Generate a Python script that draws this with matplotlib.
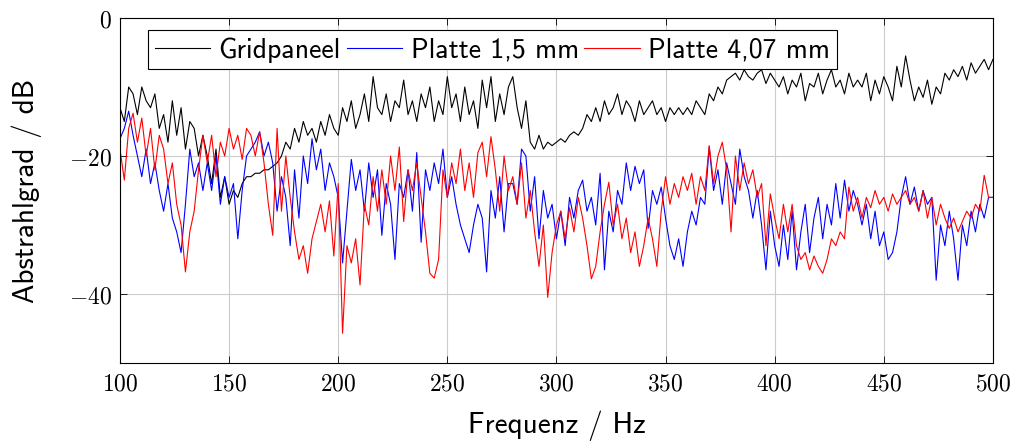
import numpy as np
import matplotlib
matplotlib.use("Agg")
import matplotlib.pyplot as plt

plt.rcParams['mathtext.fontset'] = 'cm'
plt.rcParams['axes.unicode_minus'] = False

# Frequenz 100..500 Hz in 2-Hz-Schritten
freq = np.arange(100, 501, 2)

gridpaneel = [
    -13, -15, -10, -11, -14, -10, -12, -13, -11, -16,
    -14, -18, -12, -17, -13, -19, -15, -16, -20, -17,
    -20, -24, -19, -26, -23, -27, -25, -26, -24, -23,
    -23, -22.5, -22.5, -22, -22, -21.5, -21, -20, -18, -19,
    -16, -18, -15, -17, -16, -18, -15, -17, -14, -16,
    -17, -13, -15, -12, -16, -14, -11, -15, -8.5, -13,
    -14, -11, -15, -12, -13, -9, -14, -12, -15, -11,
    -13, -10, -15, -12, -14, -8.5, -13, -11, -15, -10,
    -14, -12, -16, -9, -13, -8.5, -15, -11, -14, -10,
    -8.5, -13, -16, -12, -18, -19, -17, -19, -18, -18.5,
    -18, -17.5, -18, -17, -16.5, -17, -16, -14, -15, -13,
    -15, -12, -14, -13, -11, -14, -12, -13, -15, -12,
    -14, -13, -12, -14, -13, -15, -13, -14, -13, -14,
    -13, -14, -12, -13, -14, -11, -12, -10, -11, -9,
    -8.5, -8, -9, -7.5, -8.5, -9, -8, -7.5, -9.5, -8,
    -9, -10, -8.5, -11, -9, -10, -8, -12, -9.5, -10,
    -8, -11, -9, -7.5, -10, -9, -11, -8, -10, -9,
    -10, -8, -12, -9, -11, -8.5, -10, -12, -7, -10,
    -5.5, -9, -12, -10, -11.5, -9, -12.5, -10, -11, -8,
    -9, -7.5, -8.5, -7, -9, -6.5, -8, -7, -6, -7.5,
    -6,
]

platte_15 = [
    -17.5, -16, -13.5, -17, -20, -23, -19, -24, -21, -25,
    -28, -24, -29, -31, -34, -27, -19, -23, -21, -25,
    -21, -25, -20, -27, -23, -26, -24, -32, -25, -20,
    -19, -18, -16.5, -20, -18, -21, -28, -23, -26, -33,
    -22, -29, -20, -24, -17.5, -22, -19, -25, -21, -23,
    -26, -35.5, -28, -20.5, -25, -22, -28, -21, -26, -22,
    -31.5, -24, -27, -35, -24, -26, -22, -28, -19.5, -32.5,
    -22, -25, -21, -24, -19, -26, -23, -27, -30, -32,
    -34, -30, -27, -29, -36.8, -25, -29, -23, -31, -24,
    -24, -27, -19, -20, -28, -23, -32, -25, -29, -27,
    -32, -28, -33, -26, -29, -25, -23.5, -28, -26, -30,
    -22.5, -36.5, -28, -31, -25, -27, -21, -25, -21.5, -24,
    -22, -30.5, -25, -27, -24.5, -29, -33, -35, -32, -36,
    -31, -28, -30, -26, -27, -18.7, -25, -22, -27, -21,
    -24, -27, -19, -23, -25, -29, -25, -30, -36.5, -28,
    -33, -36, -30, -35, -28, -36.5, -31, -27, -34, -29,
    -26, -32, -27, -30, -24, -29, -23.5, -28, -25, -27,
    -30, -27, -32, -28, -33, -31, -35, -34, -31, -26,
    -23, -27, -24.5, -28, -25, -27, -26, -38, -30, -33,
    -28, -32, -38, -30, -33, -28, -31, -27, -29, -26,
    -26,
]

platte_407 = [
    -19, -23.5, -16, -13.8, -18, -14.5, -20, -16, -22, -17,
    -19, -24, -21, -27, -30, -36.8, -31, -28, -22, -17,
    -21, -17, -23, -18, -20, -16, -19, -17, -20.5, -16,
    -17, -20, -16.5, -21, -27, -31.5, -16, -28, -20, -26,
    -31, -35, -33, -37, -32, -29.5, -27, -31, -26.5, -34.5,
    -24, -45.7, -33, -35.5, -32, -38.7, -27, -30, -23, -28,
    -22, -27, -20, -25, -18.7, -29.5, -22, -25, -21, -26,
    -31, -37, -37.7, -35, -22, -26, -21, -24, -19, -25,
    -21, -26, -19.5, -18, -23, -17.2, -22, -28, -20, -25,
    -23, -27, -21, -29, -25, -31, -36, -30, -40.5, -34,
    -30, -28, -32, -27.5, -31, -26, -29, -33, -37.8, -36,
    -31, -27, -23.8, -30, -27, -32, -29, -34, -31, -36,
    -33, -29, -32, -36, -28, -23, -27, -24, -26, -23,
    -25, -22.5, -27, -23, -25, -18.5, -24, -20, -18, -22,
    -31, -20, -25, -21, -24, -22, -26, -24, -33, -25.5,
    -29, -32, -27, -31, -27, -33, -35, -34, -36.5, -34.5,
    -36, -37, -35, -32, -33, -31, -32, -24.5, -28, -26,
    -29, -26, -27.5, -25, -27, -26, -28, -25.5, -27, -26,
    -25, -27, -26, -28, -25, -29, -26, -30, -27, -29,
    -30.5, -29, -31, -29.5, -28, -29, -27, -28, -22.8, -26,
    -26,
]

x_ticks = [100, 150, 200, 250, 300, 350, 400, 450, 500]
y_ticks = [-40, -20, 0]

sans = 'cmss10'

fig = plt.figure(figsize=(10.21, 4.43), dpi=100)
ax = fig.add_axes([0.1175, 0.1806, 0.855, 0.7788])

ax.plot(freq, gridpaneel, color='black', lw=0.8, label='Gridpaneel')
ax.plot(freq, platte_15, color='blue', lw=0.8, label='Platte 1,5 mm')
ax.plot(freq, platte_407, color='red', lw=0.8, label='Platte 4,07 mm')

ax.set_xlim(100, 500)
ax.set_ylim(-50, 0)
ax.set_xticks(x_ticks)
ax.set_yticks(y_ticks)
ax.set_xticklabels([r'$%d$' % t for t in x_ticks], fontsize=17)
ax.set_yticklabels([r'$%d$' % t for t in y_ticks], fontsize=17)
ax.tick_params(direction='in', top=True, right=True, length=5, width=0.6, pad=6)
ax.grid(True, color='#cccccc', lw=0.8)
ax.set_axisbelow(True)
for s in ax.spines.values():
    s.set_linewidth(0.8)

ax.set_xlabel('Frequenz / Hz', fontsize=21, family=sans, labelpad=11)
ax.set_ylabel('Abstrahlgrad / dB', fontsize=21, family=sans, labelpad=19)

leg = ax.legend(loc='upper left', bbox_to_anchor=(0.032, 0.965), ncol=3,
                prop={'family': sans, 'size': 20}, frameon=True, fancybox=False,
                framealpha=1, edgecolor='black', handlelength=2.0,
                handletextpad=0.3, columnspacing=0.2, borderpad=0.25,
                borderaxespad=0)
leg.get_frame().set_linewidth(0.8)

fig.savefig('out.png', dpi=100)
